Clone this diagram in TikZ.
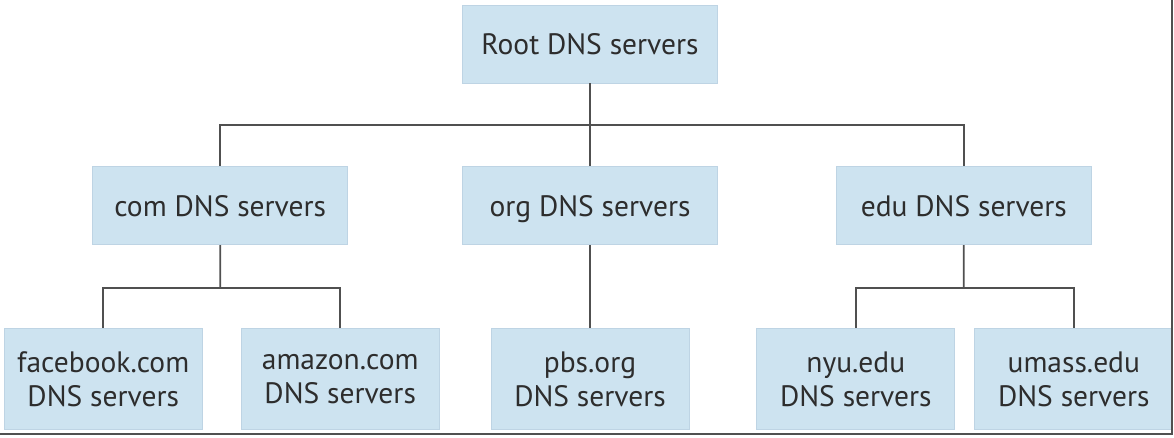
\documentclass[tikz,border=0pt]{standalone}
\usepackage{fontspec}
\setmainfont{PT Sans}
\usepackage{tikz}
\usetikzlibrary{positioning, calc}
\definecolor{boxblue}{RGB}{205, 227, 240}
\definecolor{boxedge}{RGB}{190, 212, 228}
\definecolor{textgray}{RGB}{45, 45, 45}
\definecolor{linegray}{RGB}{80, 80, 80}
\tikzset{
  dnsbox/.style={fill=boxblue, draw=boxedge, line width=0.8pt, text=textgray, align=center,
    inner sep=0pt, font=\fontsize{29.5}{34}\selectfont},
  topbox/.style={dnsbox, minimum width=255pt, minimum height=78pt, text height=21pt, text depth=0pt},
  leafbox/.style={dnsbox, minimum width=198pt, minimum height=101pt},
  treeline/.style={draw=linegray, line width=1.8pt}
}

\begin{document}
\begin{tikzpicture}
    \useasboundingbox (0pt,0pt) rectangle (1174pt,-438pt);

    \node (root) [topbox] at (590pt,-44pt) {Root DNS servers};
    \node (org) [topbox, below=83pt of root] {org DNS servers};
    \node (com) [topbox, left=114pt of org] {com DNS servers};
    \node (edu) [topbox, right=118pt of org] {edu DNS servers};

    \node (facebook) [leafbox, below=83pt of com, xshift=-117pt] {facebook.com\\DNS servers};
    \node (amazon) [leafbox, below=83pt of com, xshift=120pt] {amazon.com\\DNS servers};
    \node (pbs) [leafbox, below=83pt of org] {pbs.org\\DNS servers};
    \node (nyu) [leafbox, below=83pt of edu, xshift=-108pt] {nyu.edu\\DNS servers};
    \node (umass) [leafbox, below=83pt of edu, xshift=110pt] {umass.edu\\DNS servers};

    \coordinate (rootbus) at ($(root.south)!0.5!(org.north)$);
    \coordinate (combus) at ($(com.south)!0.52!(amazon.north -| com.south)$);
    \coordinate (edubus) at ($(edu.south)!0.52!(nyu.north -| edu.south)$);

    \draw[treeline] (root) -- (org);
    \draw[treeline] (rootbus) -| (com.north);
    \draw[treeline] (rootbus) -| (edu.north);
    \draw[treeline] (org) -- (pbs);
    \draw[treeline] (com.south) -- (combus);
    \draw[treeline] (combus) -| (facebook.north);
    \draw[treeline] (combus) -| (amazon.north);
    \draw[treeline] (edu.south) -- (edubus);
    \draw[treeline] (edubus) -| (nyu.north);
    \draw[treeline] (edubus) -| (umass.north);

    % frame shadow
    \draw[linegray, line width=2.5pt] (1172pt,0pt) |- (0pt,-434pt);
\end{tikzpicture}
\end{document}
